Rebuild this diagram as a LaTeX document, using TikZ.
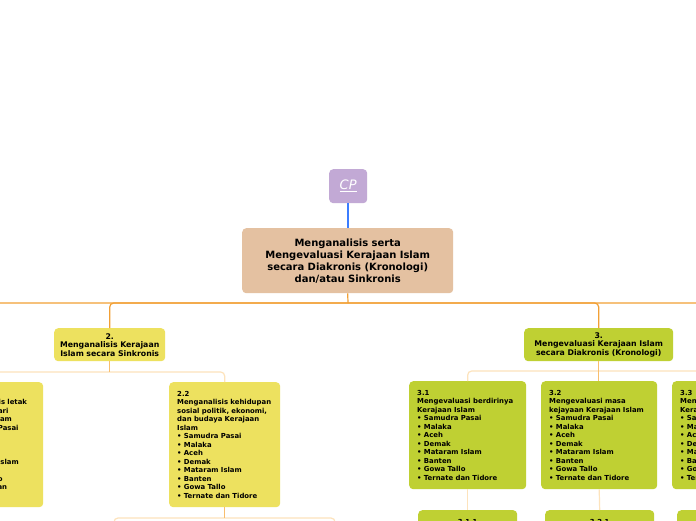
\documentclass[tikz,border=0pt]{standalone}
\usepackage{fontspec}
\setmainfont{DejaVu Sans}
\usetikzlibrary{positioning}

\definecolor{cpfill}{HTML}{C2A9D5}
\definecolor{topicfill}{HTML}{E4C1A1}
\definecolor{yellowfill}{HTML}{EDE15F}
\definecolor{greenfill}{HTML}{BFD033}
\definecolor{orangeline}{HTML}{F2A035}
\definecolor{stubline}{HTML}{F8BE6E}
\definecolor{paleline}{HTML}{FDE3BC}
\definecolor{blueline}{RGB}{60,125,255}

\begin{document}
\begin{tikzpicture}[x=1pt, y=-1pt,
    box/.style={rounded corners=4pt, inner sep=0pt, anchor=north west},
    cpbox/.style={box, fill=cpfill, minimum width=38, minimum height=34, text=white, font=\fontsize{13}{15}\selectfont},
    topic/.style={box, fill=topicfill, minimum width=211, minimum height=65, text width=205, align=center, font=\bfseries\fontsize{10}{12}\selectfont},
    branch/.style={box, minimum height=33, align=center, font=\bfseries\fontsize{7.8}{8.5}\selectfont},
    leaf/.style={box, align=left, font=\bfseries\fontsize{6.9}{8.5}\selectfont},
    sub/.style={box, inner ysep=9pt, text depth=30pt, align=center, font=\bfseries\fontsize{6.9}{8.5}\selectfont},
    cplink/.style={draw=blueline, line width=1.5pt},
    mainlink/.style={draw=orangeline, line width=1.2pt, rounded corners=4pt},
    stublink/.style={draw=stubline, line width=1.2pt},
    sublink/.style={draw=paleline, line width=1.2pt, rounded corners=4pt}]
    \fill[white] (0,0) rectangle (696,520);
    \useasboundingbox (0,0) rectangle (696,520);
    \clip (0,0) rectangle (696,520);

    \node[cpbox] (cp) at (329,169) {\underline{\textit{CP}}};
    \node[topic] (topic) at (242,228) {Menganalisis serta\\Mengevaluasi Kerajaan Islam\\secara Diakronis (Kronologi)\\dan/atau Sinkronis};

    \node[branch, fill=yellowfill, minimum width=111, text width=111] (sync) at (54,328)
      {2.\\Menganalisis Kerajaan\\Islam secara Sinkronis};
    \node[branch, fill=greenfill, minimum width=149, text width=149] (diac) at (524,328)
      {3.\\Mengevaluasi Kerajaan Islam\\secara Diakronis (Kronologi)};

    \node[leaf, fill=yellowfill, minimum width=97, minimum height=125, text width=81] (s21) at (-54,382)
      {2.1\\Menganalisis letak\\geografis dari\\Kerajaan Islam\\• Samudra Pasai\\• Malaka\\• Aceh\\• Demak\\• Mataram Islam\\• Banten\\• Gowa Tallo\\• Ternate dan\\\phantom{• }Tidore};
    \node[leaf, fill=yellowfill, minimum width=111, minimum height=125, text width=95] (s22) at (169,382)
      {2.2\\Menganalisis kehidupan\\sosial politik, ekonomi,\\dan budaya Kerajaan\\Islam\\• Samudra Pasai\\• Malaka\\• Aceh\\• Demak\\• Mataram Islam\\• Banten\\• Gowa Tallo\\• Ternate dan Tidore};

    \node[leaf, fill=greenfill, minimum width=117, minimum height=108, text width=101] (d31) at (409,381)
      {3.1\\Mengevaluasi berdirinya\\Kerajaan Islam\\• Samudra Pasai\\• Malaka\\• Aceh\\• Demak\\• Mataram Islam\\• Banten\\• Gowa Tallo\\• Ternate dan Tidore};
    \node[leaf, fill=greenfill, minimum width=116, minimum height=108, text width=100] (d32) at (541,381)
      {3.2\\Mengevaluasi masa\\kejayaan Kerajaan Islam\\• Samudra Pasai\\• Malaka\\• Aceh\\• Demak\\• Mataram Islam\\• Banten\\• Gowa Tallo\\• Ternate dan Tidore};
    \node[leaf, fill=greenfill, minimum width=117, minimum height=108, text width=101] (d33) at (672,381)
      {3.3\\Mengevaluasi runtuhnya\\Kerajaan Islam\\• Samudra Pasai\\• Malaka\\• Aceh\\• Demak\\• Mataram Islam\\• Banten\\• Gowa Tallo\\• Ternate dan Tidore};

    \node[sub, fill=greenfill, minimum width=99, text width=99] (d311) at (418,510) {3.1.1};
    \node[sub, fill=greenfill, minimum width=109, text width=109] (d321) at (545,510) {3.2.1};
    \node[sub, fill=greenfill, minimum width=99, text width=99] (d331) at (677,510) {\phantom{3.3.1}};

    \coordinate (hub) at (348,303);
    \coordinate (one) at (-60,328);
    \coordinate (four) at (760,328);
    \coordinate (g1) at (114,540);
    \coordinate (g2) at (335,540);

    \draw[cplink] (cp.south) -- (cp.south |- topic.north);
    \draw[mainlink] (topic.south) -- (hub);
    \draw[mainlink] (one) |- (hub);
    \draw[mainlink] (hub) -| (sync.north);
    \draw[mainlink] (hub) -| (diac.north);
    \draw[mainlink] (hub) -| (four);

    \draw[sublink] (s21.north) -- ++(0,-10) -| (s22.north);
    \draw[stublink] (sync.south) -- ++(0,11);
    \draw[sublink] (d31.north) -- ++(0,-10) -| (d33.north);
    \draw[stublink] (diac.south) -- (diac.south |- d32.north);
    \draw[sublink] (g1) -- ++(0,-22) -| (g2);
    \draw[stublink] (s22.south) -- ++(0,11);
    \draw[sublink] (d31.south) -- (d311.north);
    \draw[sublink] (d32.south) -- (d321.north);
  \end{tikzpicture}
\end{document}
